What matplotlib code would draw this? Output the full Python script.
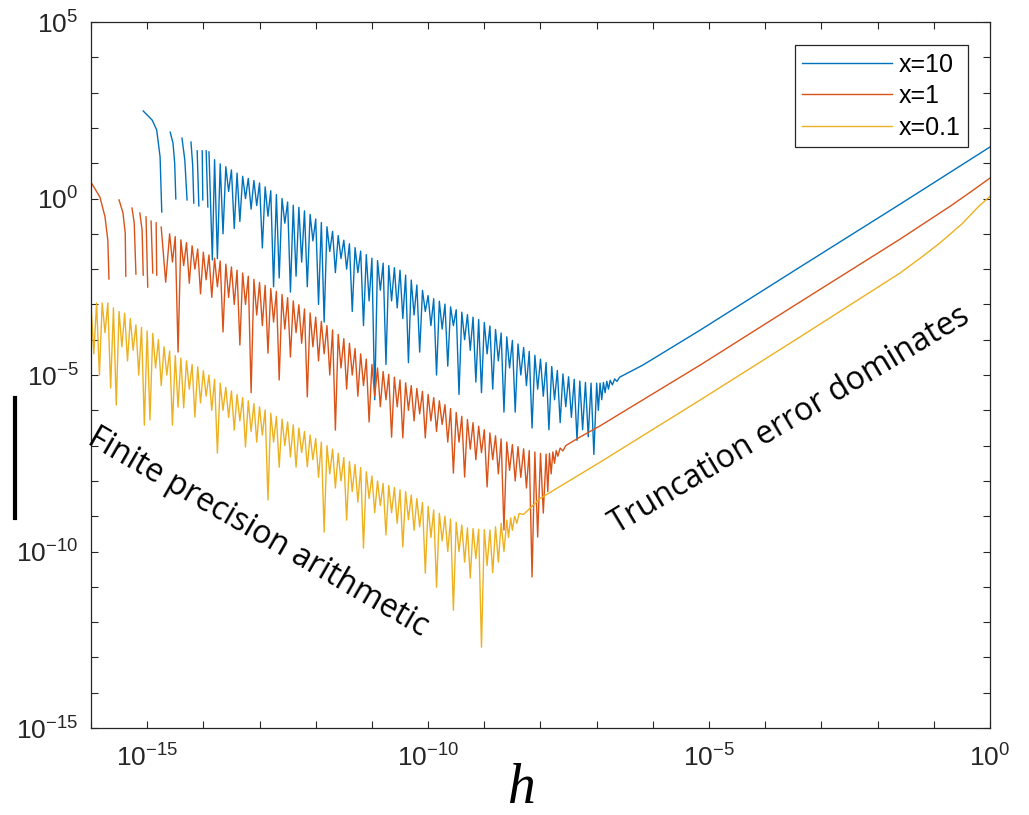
"""
Forward-difference error vs step size h, three evaluation points.
Values are log10(h) / log10(error) read off the reference figure.
"""

import numpy as np
import matplotlib
matplotlib.use("Agg")
import matplotlib.pyplot as plt
from matplotlib.lines import Line2D
from matplotlib.ticker import FixedLocator, NullLocator

nan = np.nan

# ---- x = 10 (blue) -------------------------------------------------------
# rounding "hooks" at the smallest h, NaN = gap between hooks
blue_hook_lh = [-15.07, -14.91, -14.83, -14.77, -14.74, nan,
                -14.59, -14.54, -14.51, -14.49, nan,
                -14.38, -14.33, -14.29, nan,
                -14.22, -14.19, -14.17, nan,
                -14.11, -14.08, nan,
                -14.02, -14.01, nan,
                -13.95, -13.92, nan,
                -13.90, -13.84]
blue_hook_le = [2.48, 2.22, 1.94, 1.18, -0.38, nan,
                1.88, 1.57, 1.00, -0.01, nan,
                1.71, 1.09, -0.04, nan,
                1.60, 0.95, -0.13, nan,
                1.35, -0.21, nan,
                1.35, -0.04, nan,
                1.35, -0.24, nan,
                1.32, -1.74]
# noisy band: upper envelope every 0.1 decade from blue_band_start,
# spike bottoms half a step later
blue_band_start = -13.80
blue_top = [1.10, 0.98, 0.90, 0.81, 0.72, 0.63, 0.57, 0.51, 0.44, 0.33,
            0.22, 0.11, 0.00, -0.10, -0.19, -0.25, -0.35, -0.45, -0.58, -0.68,
            -0.80, -0.93, -1.05, -1.18, -1.28, -1.39, -1.49, -1.59, -1.69, -1.76,
            -1.83, -1.90, -1.96, -2.03, -2.17, -2.31, -2.45, -2.60, -2.75, -2.84,
            -2.91, -2.99, -3.07, -3.15, -3.22, -3.29, -3.36, -3.43, -3.51, -3.61,
            -3.71, -3.81, -3.92, -4.02, -4.12, -4.22, -4.33, -4.44, -4.55, -4.65,
            -4.76, -4.87, -4.97, -5.05, -5.12, -5.17, -5.21, -5.23]
blue_low = [-1.70, -1.00, 0.20, -0.85, -0.65, 0.00, -0.30, -0.20, -1.40, -0.50,
            -2.50, -2.25, -0.70, -2.65, -2.20, -1.80, -2.50, -1.20, -3.00, -3.50,
            -1.50, -2.10, -1.70, -2.00, -3.20, -2.10, -3.60, -2.90, -5.70, -2.60,
            -4.70, -2.90, -3.10, -3.40, -4.65, -3.30, -4.35, -3.20, -3.60, -5.00,
            -3.70, -4.75, -3.60, -5.55, -4.00, -4.30, -5.20, -5.50, -4.40, -5.40,
            -4.60, -6.05, -4.80, -6.05, -5.00, -5.30, -6.50, -5.40, -5.60, -6.55,
            -5.70, -6.35, -5.90, -6.20, -6.85, -6.55, -6.75, -7.25]
blue_tail_lh = [-7.00, -6.97, -6.94, -6.91, -6.88, -6.85, -6.82, -6.79, -6.76,
                -6.72, -6.68, -6.64, -6.59, -6.18, -5.16, -3.38, -1.60, 0.00]
blue_tail_le = [-5.23, -6.00, -5.23, -5.70, -5.21, -5.50, -5.18, -5.40, -5.15,
                -5.28, -5.11, -5.18, -5.06, -4.72, -3.73, -1.94, -0.16, 1.46]

# ---- x = 1 (orange) ------------------------------------------------------
orange_hook_lh = [-16.00, -15.84, -15.75, -15.70, -15.68, nan,
                  -15.50, -15.43, -15.39, -15.38, nan,
                  -15.27, -15.23, -15.20, nan,
                  -15.13, -15.09, -15.07, nan,
                  -15.02, -14.99, nan,
                  -14.93, -14.90, nan,
                  -14.84, -14.83, nan,
                  -14.75, -14.67]
orange_hook_le = [0.46, 0.04, -0.52, -1.18, -2.28, nan,
                  -0.04, -0.41, -0.98, -2.20, nan,
                  -0.27, -0.69, -2.14, nan,
                  -0.41, -0.89, -2.17, nan,
                  -0.52, -2.51, nan,
                  -0.64, -2.11, nan,
                  -0.69, -2.17, nan,
                  -0.81, -2.37]
orange_band_start = -14.60
orange_top = [-1.00, -1.08, -1.17, -1.25, -1.34, -1.43, -1.52, -1.60, -1.69, -1.77,
              -1.86, -1.94, -2.03, -2.11, -2.20, -2.29, -2.38, -2.46, -2.55, -2.63,
              -2.72, -2.81, -2.90, -3.01, -3.13, -3.24, -3.36, -3.48, -3.60, -3.72,
              -3.85, -3.97, -4.10, -4.25, -4.40, -4.55, -4.70, -4.80, -4.90, -4.98,
              -5.06, -5.14, -5.22, -5.30, -5.38, -5.46, -5.55, -5.64, -5.73, -5.84,
              -5.95, -6.06, -6.17, -6.26, -6.35, -6.45, -6.55, -6.64, -6.72, -6.81,
              -6.90, -6.97, -7.03, -7.09, -7.14, -7.18, -7.22]
orange_low = [-1.80, -4.35, -1.90, -2.40, -2.00, -2.70, -2.30, -2.80, -2.50, -3.78,
              -2.80, -3.00, -4.15, -3.00, -5.50, -3.30, -3.60, -4.38, -3.50, -5.14,
              -3.70, -4.49, -3.80, -4.10, -5.62, -4.20, -4.60, -4.40, -5.00, -6.56,
              -4.80, -5.40, -5.00, -5.60, -5.30, -6.33, -5.60, -5.90, -5.70, -6.76,
              -5.90, -6.78, -6.00, -6.30, -6.10, -6.78, -6.30, -6.60, -6.40, -6.90,
              -7.78, -6.90, -7.89, -7.10, -7.40, -7.20, -8.17, -7.40, -7.80, -9.39,
              -7.70, -8.00, -7.90, -8.20, -10.72, -9.59, -8.91]
orange_tail_lh = [-7.90, -7.87, -7.84, -7.81, -7.78, -7.75, -7.72, -7.69, -7.65,
                  -7.60, -7.55, -7.30, -6.94, -5.16, -3.38, -1.60, -0.71, -0.35, 0.00]
orange_tail_le = [-7.24, -8.30, -7.22, -7.80, -7.18, -7.50, -7.14, -7.30, -7.07,
                  -7.15, -7.00, -6.76, -6.44, -4.72, -2.93, -1.15, -0.22, 0.18, 0.58]

# ---- x = 0.1 (yellow) ----------------------------------------------------
yellow_band_start = -16.00
yellow_top = [-2.96, -2.96, -2.96, -2.96, -3.10, -3.20, -3.25, -3.40, -3.58, -3.65,
              -3.75, -3.82, -4.00, -4.20, -4.32, -4.45, -4.52, -4.60, -4.70, -4.77,
              -4.88, -5.00, -5.12, -5.23, -5.35, -5.45, -5.55, -5.64, -5.73, -5.81,
              -5.90, -5.99, -6.08, -6.17, -6.25, -6.33, -6.41, -6.50, -6.60, -6.70,
              -6.80, -6.90, -7.00, -7.10, -7.22, -7.34, -7.45, -7.53, -7.62, -7.74,
              -7.86, -8.00, -8.07, -8.13, -8.19, -8.25, -8.30, -8.40, -8.50, -8.61,
              -8.72, -8.82, -8.92, -9.00, -9.08, -9.17, -9.25, -9.33, -9.35, -9.37,
              -9.38, -9.39, -9.30, -9.20]
yellow_low = [-4.40, -5.00, -3.80, -5.37, -5.85, -4.20, -4.60, -4.30, -5.00, -6.42,
              -6.27, -4.80, -5.30, -5.00, -6.42, -5.91, -5.93, -5.40, -6.19, -5.79,
              -5.60, -6.00, -7.21, -6.00, -6.20, -6.56, -6.30, -7.04, -6.60, -6.90,
              -6.70, -8.54, -6.90, -7.61, -7.00, -7.32, -7.61, -7.20, -7.60, -7.40,
              -7.90, -9.45, -7.80, -8.20, -8.00, -9.11, -8.30, -8.60, -9.90, -8.50,
              -8.90, -8.70, -9.53, -8.90, -9.20, -9.87, -9.10, -9.40, -9.30, -10.61,
              -9.60, -11.01, -9.70, -10.00, -11.66, -10.00, -10.30, -10.75, -10.20, -12.71,
              -10.40, -10.60, -10.30, -10.00]
yellow_tail_lh = [-8.60, -8.57, -8.53, -8.50, -8.46, -8.42, -8.38, -8.30,
                  -8.01, -6.94, -5.16, -3.38, -1.60, -1.20, -0.90, -0.71,
                  -0.50, -0.20, 0.00]
yellow_tail_le = [-9.11, -9.60, -9.05, -9.40, -9.00, -9.20, -8.92, -8.95,
                  -8.50, -7.47, -5.71, -3.92, -2.11, -1.64, -1.27, -1.01,
                  -0.72, -0.22, 0.06]

labels = ["x=10", "x=1", "x=0.1"]
colors = ["#0072BD", "#D95319", "#EDB120"]

BAND_STEP = 0.1


def band(start, top, low):
    """Interleave envelope and spike bottoms into one zig-zag trace."""
    n = len(top)
    lh = np.column_stack([start + BAND_STEP * np.arange(n),
                          start + BAND_STEP * np.arange(n) + BAND_STEP / 2]).ravel()
    le = np.column_stack([top, low]).ravel()
    return lh, le


def series(hook_lh, hook_le, start, top, low, tail_lh, tail_le):
    b_lh, b_le = band(start, top, low)
    lh = np.concatenate([hook_lh, b_lh, tail_lh])
    le = np.concatenate([hook_le, b_le, tail_le])
    return 10.0 ** lh, 10.0 ** le


curves = [
    series(blue_hook_lh, blue_hook_le, blue_band_start, blue_top, blue_low,
           blue_tail_lh, blue_tail_le),
    series(orange_hook_lh, orange_hook_le, orange_band_start, orange_top, orange_low,
           orange_tail_lh, orange_tail_le),
    series([], [], yellow_band_start, yellow_top, yellow_low,
           yellow_tail_lh, yellow_tail_le),
]

plt.rcParams["font.family"] = ["Liberation Sans", "DejaVu Sans"]
plt.rcParams["mathtext.fontset"] = "custom"
plt.rcParams["mathtext.rm"] = "Liberation Sans"
plt.rcParams["mathtext.it"] = "Liberation Sans:italic"

AX_COL = "#262626"

fig = plt.figure(figsize=(10.29, 8.15), dpi=100)
ax = fig.add_axes([0.0884, 0.1067, 0.8737, 0.8663])

for (h, e), c, lab in zip(curves, colors, labels):
    ax.loglog(h, e, color=c, lw=1.0, label=lab)

ax.set_xlim(1e-16, 1)
ax.set_ylim(1e-15, 1e5)

xt = 10.0 ** np.arange(-16, 1)
yt = 10.0 ** np.arange(-15, 6)
ax.xaxis.set_major_locator(FixedLocator(xt))
ax.yaxis.set_major_locator(FixedLocator(yt))
ax.xaxis.set_minor_locator(NullLocator())
ax.yaxis.set_minor_locator(NullLocator())
ax.set_xticklabels([f"$\\mathregular{{10^{{{k}}}}}$" if k % 5 == 0 else ""
                    for k in range(-16, 1)])
ax.set_yticklabels([f"$\\mathregular{{10^{{{k}}}}}$" if k % 5 == 0 else ""
                    for k in range(-15, 6)])

ax.tick_params(which="both", direction="in", top=True, right=True,
               length=5, width=0.8, colors=AX_COL, labelsize=19)
ax.tick_params(axis="x", pad=12)
ax.tick_params(axis="y", pad=9)
for sp in ax.spines.values():
    sp.set_color(AX_COL)
    sp.set_linewidth(0.9)

leg = ax.legend(loc="upper right", bbox_to_anchor=(0.9755, 0.9674),
                borderaxespad=0, fancybox=False, edgecolor=AX_COL,
                framealpha=1, fontsize=18, handlelength=3.6,
                handletextpad=0.25, labelspacing=0.3, borderpad=0.3)
leg.get_frame().set_linewidth(0.9)

ax.text(10 ** -13.03, 10 ** -9.45, "Finite precision arithmetic",
        fontsize=23, family="Open Sans", rotation=-30,
        rotation_mode="anchor", ha="center", va="center")
ax.text(10 ** -3.56, 10 ** -6.27, "Truncation error dominates",
        fontsize=23, family="Open Sans", rotation=31,
        rotation_mode="anchor", ha="center", va="center")

fig.text(0.507, 0.0, "h", fontsize=40, family="Liberation Serif",
         style="italic", ha="center", va="bottom")

# cropped y-label remnant at the left edge
fig.add_artist(Line2D([0.0141, 0.0141], [0.3644, 0.5117], color="black", lw=3))

fig.savefig("out.png", dpi=100)
